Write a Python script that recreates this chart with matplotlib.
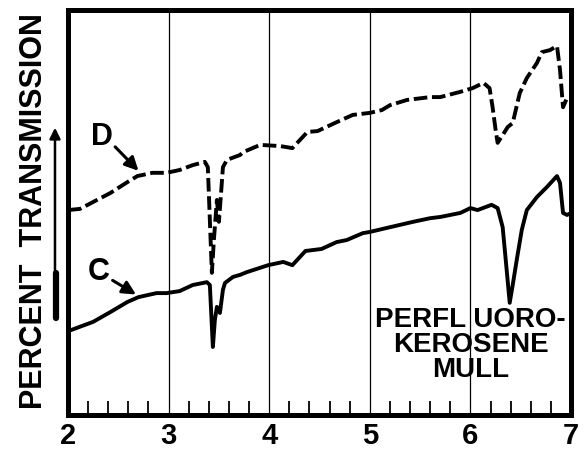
import numpy as np
import matplotlib
matplotlib.use('Agg')
import matplotlib.pyplot as plt
from matplotlib.patches import FancyArrowPatch
from matplotlib.ticker import MultipleLocator

plt.rcParams['font.family'] = ['Liberation Sans', 'DejaVu Sans']
plt.rcParams['font.weight'] = 'bold'

# wavelength (microns) and percent transmission
c_wave = [2.00, 2.25, 2.42, 2.59, 2.70, 2.88, 2.98, 3.11, 3.24, 3.38, 3.41, 3.44,
          3.46, 3.48, 3.51, 3.54, 3.56, 3.64, 3.71, 3.78, 3.99, 4.14, 4.23, 4.36,
          4.52, 4.67, 4.77, 4.93, 5.00, 5.17, 5.43, 5.60, 5.70, 5.90, 6.00, 6.07,
          6.21, 6.27, 6.32, 6.36, 6.39, 6.42, 6.46, 6.51, 6.56, 6.66, 6.76, 6.86,
          6.89, 6.92, 6.96, 7.00]
c_trans = [20.7, 23.0, 25.4, 27.9, 29.1, 30.1, 30.1, 30.6, 32.1, 32.8, 32.1, 16.8,
           23.5, 26.7, 25.2, 30.9, 32.6, 34.1, 34.6, 35.3, 37.0, 37.8, 37.0, 40.5,
           41.0, 42.7, 43.2, 44.9, 45.2, 46.2, 47.7, 48.6, 48.9, 49.9, 51.1, 50.6,
           51.9, 51.1, 46.4, 35.8, 27.7, 32.1, 38.3, 45.7, 50.6, 53.8, 56.3, 59.0,
           57.3, 49.9, 49.4, 49.9]

d_wave = [2.00, 2.12, 2.25, 2.42, 2.59, 2.69, 2.84, 2.98, 3.11, 3.24, 3.36, 3.39,
          3.41, 3.43, 3.45, 3.48, 3.50, 3.52, 3.54, 3.58, 3.71, 3.74, 3.91, 4.11,
          4.23, 4.38, 4.48, 4.67, 4.83, 5.00, 5.12, 5.20, 5.37, 5.60, 5.70, 5.90,
          6.02, 6.13, 6.19, 6.22, 6.25, 6.27, 6.32, 6.37, 6.42, 6.49, 6.56, 6.66,
          6.71, 6.79, 6.86, 6.89, 6.92, 6.96, 7.00]
d_trans = [50.6, 50.9, 52.6, 54.8, 57.5, 59.0, 59.8, 59.8, 60.5, 61.7, 62.5, 61.2,
           48.1, 35.1, 43.2, 53.1, 47.7, 54.3, 61.2, 63.0, 64.2, 64.9, 66.7, 66.4,
           65.9, 69.9, 70.1, 72.3, 74.1, 74.6, 75.3, 76.5, 77.8, 78.5, 78.5, 79.8,
           80.7, 82.0, 80.7, 76.0, 70.4, 67.2, 69.1, 71.1, 72.1, 79.5, 83.2, 86.9,
           89.6, 90.1, 91.1, 85.2, 76.0, 78.3, 78.3]

x_ticks = [2, 3, 4, 5, 6, 7]

fig = plt.figure(figsize=(5.85, 4.51), dpi=100)
ax = fig.add_axes([0.1162, 0.0798, 0.860, 0.898])

ax.plot(c_wave, c_trans, color='black', lw=2.8, solid_joinstyle='round',
        solid_capstyle='round')
ax.plot(d_wave, d_trans, color='black', lw=2.8, dashes=(3.5, 1.2),
        dash_joinstyle='round', dash_capstyle='butt')

ax.set_xlim(2, 7)
ax.set_ylim(0, 100)
ax.set_xticks(x_ticks)
ax.set_xticklabels([str(t) for t in x_ticks], fontsize=21, fontweight='bold')
ax.xaxis.set_minor_locator(MultipleLocator(0.2))
ax.tick_params(axis='x', which='major', length=0, pad=5)
ax.tick_params(axis='x', which='minor', direction='in', length=10, width=1.3)
ax.set_yticks([])
ax.grid(axis='x', which='major', color='black', lw=0.9)
for s in ax.spines.values():
    s.set_linewidth(3.6)

# curve labels with arrows
ax.annotate('', xy=(2.72, 59.8), xytext=(2.45, 66.7),
            arrowprops=dict(arrowstyle='-|>', color='black', lw=2.2,
                            mutation_scale=20))
ax.text(2.34, 68.6, 'D', fontsize=22, fontweight='bold', ha='center', va='center')
ax.annotate('', xy=(2.70, 29.4), xytext=(2.42, 33.6),
            arrowprops=dict(arrowstyle='-|>', color='black', lw=2.2,
                            mutation_scale=20))
ax.text(2.31, 35.3, 'C', fontsize=22, fontweight='bold', ha='center', va='center')

ax.text(6.0, 26.6, 'PERFL UORO-\nKEROSENE\nMULL', fontsize=20, fontweight='bold',
        ha='center', va='top', linespacing=0.95)

fig.text(0.058, 0.531, 'PERCENT  TRANSMISSION', rotation=90, fontsize=22,
         fontweight='bold', ha='center', va='center')
arr = FancyArrowPatch((0.094, 0.295), (0.094, 0.723), transform=fig.transFigure,
                      arrowstyle='-|>', color='black', lw=1.8, mutation_scale=16)
fig.add_artist(arr)
fig.add_artist(plt.Line2D([0.0965, 0.0965], [0.295, 0.395], transform=fig.transFigure,
                          color='black', lw=4.5, solid_capstyle='round'))

fig.savefig('out.png', dpi=100)
